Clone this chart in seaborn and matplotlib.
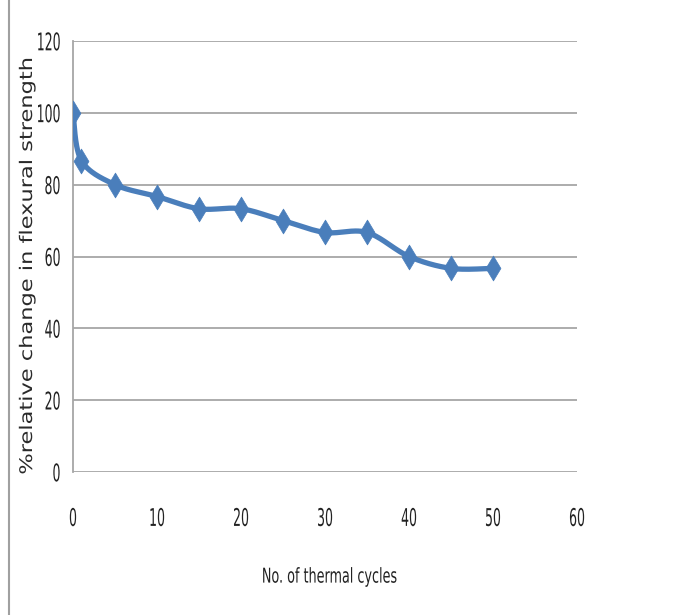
import numpy as np
import pandas as pd
import matplotlib
matplotlib.use("Agg")
import matplotlib.pyplot as plt
from matplotlib.lines import Line2D
from matplotlib.patheffects import AbstractPathEffect
from matplotlib.transforms import Affine2D
import seaborn as sns

# Flexural strength retained after thermal cycling
cycles = [0, 1, 5, 10, 15, 20, 25, 30, 35, 40, 45, 50]
strength_pct = [100, 86.7, 80, 76.7, 73.3, 73.3, 70, 66.7, 66.7, 60, 56.7, 56.7]
x_ticks = [0, 10, 20, 30, 40, 50, 60]
y_ticks = [0, 20, 40, 60, 80, 100, 120]
x_title = "No. of thermal cycles"
y_title = "%relative change in flexural strength"

df = pd.DataFrame({"cycles": cycles, "strength": strength_pct})


class Stretch(AbstractPathEffect):
    """Scale a text path in its own frame: sx along the baseline, sy across it."""

    def __init__(self, sx=1.0, sy=1.0, anchor="center"):
        super().__init__()
        self.sx = sx
        self.sy = sy
        self.anchor = anchor

    def draw_path(self, renderer, gc, tpath, affine, rgbFace=None):
        ext = tpath.get_extents()
        if self.anchor == "right":
            cx = ext.x1
        elif self.anchor == "left":
            cx = ext.x0
        else:
            cx = 0.5 * (ext.x0 + ext.x1)
        cy = 0.5 * (ext.y0 + ext.y1)
        t = (Affine2D().translate(-cx, -cy).scale(self.sx, self.sy)
             .translate(cx, cy) + affine)
        renderer.draw_path(gc, tpath, t, rgbFace)


def smooth_curve(x, y, n=30):
    """Cubic Bezier spline (Catmull-Rom style) through the data points."""
    x = np.asarray(x, float)
    y = np.asarray(y, float)
    px = np.concatenate([[x[0]], x, [x[-1]]])
    py = np.concatenate([[y[0]], y, [y[-1]]])
    xs, ys = [], []
    t = np.linspace(0, 1, n)
    for i in range(1, len(px) - 2):
        p0 = np.array([px[i], py[i]])
        p3 = np.array([px[i + 1], py[i + 1]])
        c1 = p0 + (np.array([px[i + 1], py[i + 1]]) - np.array([px[i - 1], py[i - 1]])) / 6
        c2 = p3 - (np.array([px[i + 2], py[i + 2]]) - np.array([px[i], py[i]])) / 6
        b = ((1 - t) ** 3)[:, None] * p0 + (3 * (1 - t) ** 2 * t)[:, None] * c1 \
            + (3 * (1 - t) * t ** 2)[:, None] * c2 + (t ** 3)[:, None] * p3
        xs.append(b[:, 0])
        ys.append(b[:, 1])
    return np.concatenate(xs), np.concatenate(ys)


sns.set_theme(style="white")
plt.rcParams["font.family"] = ["DejaVu Sans"]

W, H = 699, 615
fig = plt.figure(figsize=(W / 100, H / 100), dpi=100)
ax = fig.add_axes([73 / W, 1 - 472 / H, 504 / W, 431 / H])

blue = "#4A7EBB"
sx, sy = smooth_curve(cycles, strength_pct)
ax.plot(sx, sy, color=blue, lw=3.8, solid_capstyle="round", zorder=3)
sns.scatterplot(data=df, x="cycles", y="strength", marker="d", s=160,
                color=blue, edgecolor=blue, linewidth=0.5, ax=ax, zorder=4)

ax.set_xlim(0, 60)
ax.set_ylim(0, 120)
ax.set_xticks(x_ticks)
ax.set_yticks(y_ticks)
ax.tick_params(axis="both", length=0, labelsize=9, colors="#222222")
ax.tick_params(axis="x", pad=28.5)
ax.tick_params(axis="y", pad=9)
for lab in ax.get_xticklabels():
    lab.set_path_effects([Stretch(1.0, 1.95, "center")])
for lab in ax.get_yticklabels():
    lab.set_path_effects([Stretch(1.0, 1.95, "right")])

ax.yaxis.grid(True, color="#A6A6A6", lw=1.3)
ax.xaxis.grid(False)
for side in ["top", "right", "bottom"]:
    ax.spines[side].set_visible(False)
ax.spines["left"].set_color("#A6A6A6")
ax.spines["left"].set_linewidth(1.3)
ax.set_xlabel("")
ax.set_ylabel("")

fig.text(329.5 / W, 1 - 577 / H, x_title, ha="center", va="center",
         fontsize=9.2, color="#222222", path_effects=[Stretch(1.0, 1.6, "center")])

# vertical title, lengthened along its baseline to span the value range
ytxt = fig.text(27 / W, 1 - 265 / H, y_title, ha="center", va="center",
                rotation=90, fontsize=12.5, color="#2a2a2a")
fig.canvas.draw()
natural = ytxt.get_window_extent().height
ytxt.set_path_effects([Stretch(420 / natural, 1.0, "center")])

fig.add_artist(Line2D([8.5 / W, 8.5 / W], [0, 1], color="#A0A0A0", lw=1.5,
                      transform=fig.transFigure))

fig.savefig("out.png", dpi=100, facecolor="white")
